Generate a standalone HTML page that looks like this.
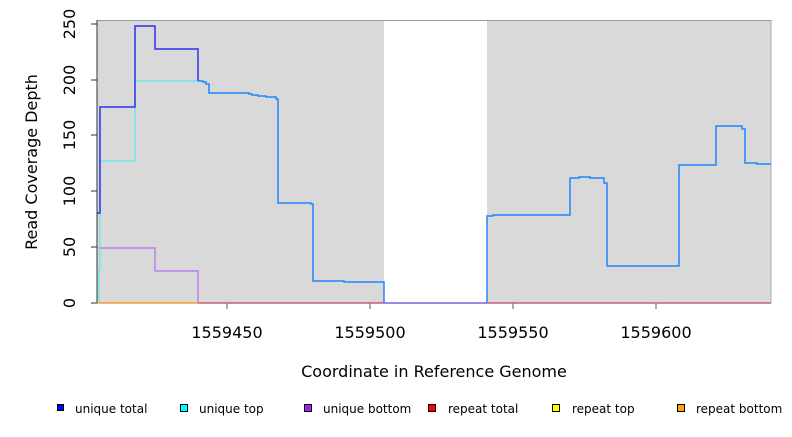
<!DOCTYPE html>
<html><head><meta charset="utf-8"><style>
body{margin:0;background:#fff}
svg text{font-family:"DejaVu Sans","Liberation Sans",sans-serif;fill:#000}
</style></head><body>
<svg width="792" height="432" viewBox="0 0 792 432" xmlns="http://www.w3.org/2000/svg">
<rect x="97" y="20" width="287" height="283" fill="#d9d9d9"/>
<rect x="487" y="20" width="284" height="283" fill="#d9d9d9"/>
<line x1="97" y1="20.5" x2="771" y2="20.5" stroke="#999" stroke-width="1"/>
<line x1="771" y1="20" x2="771" y2="303" stroke="#aaa" stroke-width="1"/>
<line x1="97" y1="20" x2="97" y2="303" stroke="#333" stroke-width="1"/>
<g stroke="#333" stroke-width="1">
<line x1="91" y1="303" x2="97" y2="303"/><line x1="91" y1="247" x2="97" y2="247"/>
<line x1="91" y1="191" x2="97" y2="191"/><line x1="91" y1="135" x2="97" y2="135"/>
<line x1="91" y1="80" x2="97" y2="80"/><line x1="91" y1="24" x2="97" y2="24"/>
</g>
<g font-size="16" text-anchor="middle">
<text transform="translate(75,303) rotate(-90)">0</text>
<text transform="translate(75,247) rotate(-90)">50</text>
<text transform="translate(75,191) rotate(-90)">100</text>
<text transform="translate(75,135) rotate(-90)">150</text>
<text transform="translate(75,80) rotate(-90)">200</text>
<text transform="translate(75,24) rotate(-90)">250</text>
<text transform="translate(37,162) rotate(-90)">Read Coverage Depth</text>
</g>
<g stroke="#555" stroke-width="1">
<line x1="227" y1="303" x2="227" y2="309"/><line x1="370" y1="303" x2="370" y2="309"/>
<line x1="513" y1="303" x2="513" y2="309"/><line x1="656" y1="303" x2="656" y2="309"/>
</g>
<g font-size="16" text-anchor="middle">
<text x="227" y="338">1559450</text><text x="370" y="338">1559500</text>
<text x="513" y="338">1559550</text><text x="656" y="338">1559600</text>
<text x="434" y="377">Coordinate in Reference Genome</text>
</g>
<g fill="none" stroke-width="1.5">
<polyline stroke="#c080e8" points="97,248 155,248 155,271 198,271 198,303"/>
<polyline stroke="#70e8e8" points="99,303 99,267 100,267 100,161 135,161 135,81 198,81"/>
<polyline stroke="#3030f0" points="97,213 100,213 100,107 135,107 135,26 155,26 155,49 198,49 198,81"/>
<polyline stroke="#1e88ff" points="198,81 203,81 203,82 206,82 206,84 209,84 209,93 249,93 249,94 252,94 252,95 258,95 258,96 266,96 266,97 276,97 276,99 278,99 278,203 311,203 311,204 313,204 313,281 344,281 344,282 384,282 384,303"/>
<line x1="384" y1="303" x2="487" y2="303" stroke="#8060e0"/>
<polyline stroke="#1e88ff" points="487,303 487,216 493,216 493,215 570,215 570,178 579,178 579,177 590,177 590,178 604,178 604,183 607,183 607,266 679,266 679,165 716,165 716,126 742,126 742,129 745,129 745,163 757,163 757,164 771,164"/>
<line x1="97" y1="303" x2="198" y2="303" stroke="#f0a030"/>
<line x1="198" y1="303" x2="384" y2="303" stroke="#c06080"/>
<line x1="487" y1="303" x2="771" y2="303" stroke="#c06080"/>
</g>
<g stroke="#000" stroke-width="1">
<rect x="57.5" y="404.5" width="6" height="6" fill="#0000ff"/>
<rect x="180.5" y="404.5" width="7" height="7" fill="#00ffff"/>
<rect x="304.5" y="404.5" width="7" height="7" fill="#a020f0"/>
<rect x="428.5" y="404.5" width="7" height="7" fill="#ff0000"/>
<rect x="552.5" y="404.5" width="7" height="7" fill="#ffff00"/>
<rect x="677.5" y="404.5" width="7" height="7" fill="#ffa500"/>
</g>
<g font-size="12">
<text x="75" y="413">unique total</text>
<text x="199" y="413">unique top</text>
<text x="323" y="413">unique bottom</text>
<text x="448" y="413">repeat total</text>
<text x="572" y="413">repeat top</text>
<text x="696" y="413">repeat bottom</text>
</g>
</svg>
</body></html>
